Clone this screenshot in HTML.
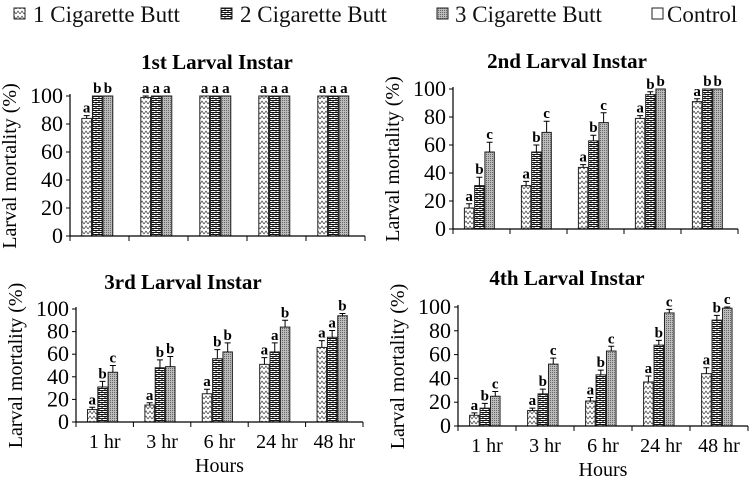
<!DOCTYPE html>
<html><head><meta charset="utf-8"><style>
body{margin:0;background:#fff;}
svg{display:block;}
svg text{font-family:"Liberation Serif","DejaVu Serif",serif;}
</style></head><body>
<svg id="chart" width="751" height="485" viewBox="0 0 751 485" xmlns="http://www.w3.org/2000/svg">
<defs>
<pattern id="p1" width="4" height="5" patternUnits="userSpaceOnUse"><rect width="4" height="5" fill="#fff"/><path d="M0,4 L2,1 L4,4" stroke="#444" stroke-width="0.7" fill="none"/></pattern>
<pattern id="p2" width="6" height="4" patternUnits="userSpaceOnUse"><rect width="6" height="4" fill="#fff"/><path d="M0,0.5 H6 M3,0 V2 M0,2.5 H6 M0,2.5 V4 M6,2.5 V4" stroke="#111" stroke-width="1" fill="none"/></pattern>
<pattern id="p3" width="2" height="2" patternUnits="userSpaceOnUse"><rect width="2" height="2" fill="#bbb"/><rect width="1" height="1" fill="#666"/></pattern>
</defs>
<g id="legend"></g>
<g id="panels"></g>
</svg>
<script>
const hours = ["1 hr","3 hr","6 hr","24 hr","48 hr"];
const yTicks = [0,20,40,60,80,100];
const seriesNames = ["1 Cigarette Butt","2 Cigarette Butt","3 Cigarette Butt","Control"];
// panel 1
const p1c1 = [84,99,100,100,100];
const p1c2 = [100,100,100,100,100];
const p1c3 = [100,100,100,100,100];
const p1e1 = [2,1,0,0,0];
const p1e2 = [0,0,0,0,0];
const p1e3 = [0,0,0,0,0];
const p1L = [["a","b","b"],["a","a","a"],["a","a","a"],["a","a","a"],["a","a","a"]];
// panel 2
const p2c1 = [15,31,44,79,91];
const p2c2 = [31,55,63,96,100];
const p2c3 = [55,69,76,100,100];
const p2e1 = [3,3,2,2,2];
const p2e2 = [6,5,4,2,0];
const p2e3 = [7,8,7,0,0];
const p2L = [["a","b","c"],["a","b","c"],["a","b","c"],["a","b","b"],["a","b","b"]];
// panel 3
const p3c1 = [11,15,25,51,66];
const p3c2 = [31,48,56,62,75];
const p3c3 = [44,49,62,84,94];
const p3e1 = [2,2,4,6,6];
const p3e2 = [5,7,8,8,6];
const p3e3 = [6,9,8,6,2];
const p3L = [["a","b","c"],["a","b","b"],["a","b","b"],["a","a","b"],["a","a","b"]];
// panel 4
const p4c1 = [9,13,21,37,44];
const p4c2 = [15,27,43,68,89];
const p4c3 = [25,52,63,95,99];
const p4e1 = [2,2,3,5,5];
const p4e2 = [4,4,4,4,4];
const p4e3 = [4,5,4,3,1];
const p4L = [["a","b","c"],["a","b","c"],["a","b","c"],["a","b","c"],["a","b","c"]];

const NS="http://www.w3.org/2000/svg";
const FF='"Liberation Serif", "DejaVu Serif", serif';
function mk(tag, attrs, parent, text){
  const e=document.createElementNS(NS,tag);
  for(const k in attrs) e.setAttribute(k,attrs[k]);
  if(text!==undefined){ e.textContent=text; e.setAttribute('font-family',FF); }
  parent.appendChild(e); return e;
}
const fills=["url(#p1)","url(#p2)","url(#p3)"];
const leg=document.getElementById('legend');
const legX=[[14,33],[221,240],[437,455],[652,667]];
seriesNames.forEach((n,i)=>{
  const r=mk('rect',{x:legX[i][0],y:8,width:11,height:11,fill:i<3?fills[i]:'#fff',stroke:'#222','stroke-width':1},leg);
  
  
  const t=mk('text',{x:legX[i][1],y:22,'font-size':23,fill:'#111'},leg,n);
  
  
});

const panels=[
 {title:"1st Larval Instar",tx:217,ty:69,ax:70,x1:365,y0:236,y100:96,c:[p1c1,p1c2,p1c3],e:[p1e1,p1e2,p1e3],L:p1L,xl:false},
 {title:"2nd Larval Instar",tx:567,ty:68,ax:453,x1:738,y0:229,y100:89,c:[p2c1,p2c2,p2c3],e:[p2e1,p2e2,p2e3],L:p2L,xl:false},
 {title:"3rd Larval Instar",tx:183,ty:289,ax:76,x1:363,y0:422,y100:309,c:[p3c1,p3c2,p3c3],e:[p3e1,p3e2,p3e3],L:p3L,xl:true},
 {title:"4th Larval Instar",tx:567,ty:285,ax:458,x1:748,y0:426,y100:307,c:[p4c1,p4c2,p4c3],e:[p4e1,p4e2,p4e3],L:p4L,xl:true}
];
const root=document.getElementById('panels');
panels.forEach((p,pi)=>{
  const g=mk('g',{},root);
  
  
  const y=v=>p.y0-(p.y0-p.y100)*v/100;
  const gw=(p.x1-p.ax)/hours.length;
  const t=mk('text',{x:p.tx,y:p.ty,'font-size':21,'font-weight':'bold','text-anchor':'middle'},g,p.title);
  
  
  const cy=(p.y0+p.y100)/2;
  const yl=mk('text',{x:0,y:0,'font-size':20,'text-anchor':'middle',transform:`translate(${p.ax-54},${cy}) rotate(-90)`},g,"Larval mortality (%)");
  
  
  yTicks.forEach(v=>{
    mk('line',{x1:p.ax-4,x2:p.ax,y1:y(v),y2:y(v),stroke:'#000','stroke-width':1},g);
    const tl=mk('text',{x:p.ax-7,y:y(v)+7,'font-size':22,'text-anchor':'end'},g,String(v));
    
    
  });
  const bw=gw*0.165, step=gw*0.18, off=gw*0.2;
  hours.forEach((h,i)=>{
    const gx=p.ax+gw*i;
    mk('line',{x1:gx+gw,x2:gx+gw,y1:p.y0,y2:p.y0+5,stroke:'#000','stroke-width':1},g);
    for(let s=0;s<3;s++){
      const v=p.c[s][i], e=p.e[s][i];
      const bx=gx+off+step*s;
      const b=mk('rect',{x:bx,y:y(v),width:bw,height:p.y0-y(v),fill:fills[s],stroke:'#222','stroke-width':1},g);
      
      
      const cx=bx+bw/2;
      if(e>0){
        mk('path',{d:`M${cx},${y(v+e)}V${y(v)} M${cx-3},${y(v+e)}H${cx+3}`,stroke:'#000','stroke-width':1,fill:'none'},g);
      }
      const lt=mk('text',{x:cx,y:y(v+e)-3,'font-size':15,'font-weight':'bold','text-anchor':'middle'},g,p.L[i][s]);
      
      
    }
    if(p.xl){
      const xt=mk('text',{x:gx+gw/2,y:p.y0+26,'font-size':20,'text-anchor':'middle'},g,h);
      
      
    }
  });
  mk('line',{x1:p.ax,x2:p.ax,y1:p.y100-2,y2:p.y0,stroke:'#000','stroke-width':1.2},g);
  mk('line',{x1:p.ax,x2:p.x1,y1:p.y0,y2:p.y0,stroke:'#000','stroke-width':1.2},g);
  mk('line',{x1:p.ax,x2:p.ax,y1:p.y0,y2:p.y0+5,stroke:'#000','stroke-width':1},g);
  if(p.xl){
    const xa=mk('text',{x:(p.ax+p.x1)/2,y:p.y0+50,'font-size':20,'text-anchor':'middle'},g,"Hours");
    
    
  }
});
</script>
</body></html>
